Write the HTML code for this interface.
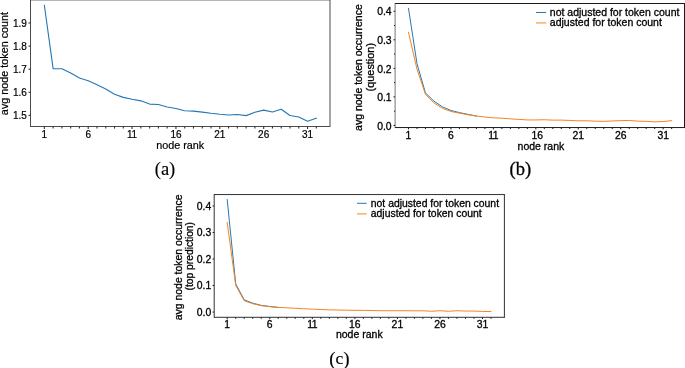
<!DOCTYPE html>
<html><head><meta charset="utf-8"><title>figure</title>
<style>
html,body{margin:0;padding:0;background:#fff;}
svg{display:block}
text.s{font-family:"Liberation Sans",sans-serif;}
text.r{font-family:"Liberation Serif",serif;}
</style></head><body>
<svg width="685" height="368" viewBox="0 0 685 368">
<rect width="685" height="368" fill="#fff"/>
<polyline points="44.35,5.31 53.12,68.60 61.90,68.69 70.67,72.97 79.44,78.09 88.22,80.75 96.99,84.68 105.76,89.07 114.53,94.24 123.31,97.38 132.08,99.23 140.85,100.85 149.63,104.08 158.40,104.54 167.17,107.01 175.94,108.47 184.72,110.78 193.49,111.13 202.26,112.17 211.04,113.32 219.81,114.25 228.58,114.94 237.36,114.48 246.13,115.63 254.90,112.17 263.68,110.09 272.45,111.94 281.22,109.21 289.99,115.56 298.77,117.02 307.54,121.29 316.31,118.17" fill="none" stroke="#2577b3" stroke-width="1.1" stroke-linejoin="round" stroke-linecap="square"/>
<line x1="30.50" y1="-0.60" x2="30.50" y2="127.00" stroke="#4a4a4a" stroke-width="1.0"/>
<line x1="330.00" y1="-0.60" x2="330.00" y2="127.00" stroke="#4a4a4a" stroke-width="1.0"/>
<line x1="30.50" y1="-0.10" x2="330.00" y2="-0.10" stroke="#4a4a4a" stroke-width="1.0"/>
<line x1="30.50" y1="126.50" x2="330.00" y2="126.50" stroke="#4a4a4a" stroke-width="1.0"/>
<line x1="44.35" y1="126.50" x2="44.35" y2="129.10" stroke="#333" stroke-width="1.1"/>
<text class="s" x="44.35" y="138.10" font-size="10.0" text-anchor="middle" fill="#000" stroke="#000" stroke-width="0.2">1</text>
<line x1="53.12" y1="126.50" x2="53.12" y2="128.60" stroke="#333" stroke-width="1.1"/>
<line x1="61.90" y1="126.50" x2="61.90" y2="128.60" stroke="#333" stroke-width="1.1"/>
<line x1="70.67" y1="126.50" x2="70.67" y2="128.60" stroke="#333" stroke-width="1.1"/>
<line x1="79.44" y1="126.50" x2="79.44" y2="128.60" stroke="#333" stroke-width="1.1"/>
<line x1="88.22" y1="126.50" x2="88.22" y2="129.10" stroke="#333" stroke-width="1.1"/>
<text class="s" x="88.22" y="138.10" font-size="10.0" text-anchor="middle" fill="#000" stroke="#000" stroke-width="0.2">6</text>
<line x1="96.99" y1="126.50" x2="96.99" y2="128.60" stroke="#333" stroke-width="1.1"/>
<line x1="105.76" y1="126.50" x2="105.76" y2="128.60" stroke="#333" stroke-width="1.1"/>
<line x1="114.53" y1="126.50" x2="114.53" y2="128.60" stroke="#333" stroke-width="1.1"/>
<line x1="123.31" y1="126.50" x2="123.31" y2="128.60" stroke="#333" stroke-width="1.1"/>
<line x1="132.08" y1="126.50" x2="132.08" y2="129.10" stroke="#333" stroke-width="1.1"/>
<text class="s" x="132.08" y="138.10" font-size="10.0" text-anchor="middle" fill="#000" stroke="#000" stroke-width="0.2">1<tspan dx="-0.45">1</tspan></text>
<line x1="140.85" y1="126.50" x2="140.85" y2="128.60" stroke="#333" stroke-width="1.1"/>
<line x1="149.63" y1="126.50" x2="149.63" y2="128.60" stroke="#333" stroke-width="1.1"/>
<line x1="158.40" y1="126.50" x2="158.40" y2="128.60" stroke="#333" stroke-width="1.1"/>
<line x1="167.17" y1="126.50" x2="167.17" y2="128.60" stroke="#333" stroke-width="1.1"/>
<line x1="175.94" y1="126.50" x2="175.94" y2="129.10" stroke="#333" stroke-width="1.1"/>
<text class="s" x="175.94" y="138.10" font-size="10.0" text-anchor="middle" fill="#000" stroke="#000" stroke-width="0.2">16</text>
<line x1="184.72" y1="126.50" x2="184.72" y2="128.60" stroke="#333" stroke-width="1.1"/>
<line x1="193.49" y1="126.50" x2="193.49" y2="128.60" stroke="#333" stroke-width="1.1"/>
<line x1="202.26" y1="126.50" x2="202.26" y2="128.60" stroke="#333" stroke-width="1.1"/>
<line x1="211.04" y1="126.50" x2="211.04" y2="128.60" stroke="#333" stroke-width="1.1"/>
<line x1="219.81" y1="126.50" x2="219.81" y2="129.10" stroke="#333" stroke-width="1.1"/>
<text class="s" x="219.81" y="138.10" font-size="10.0" text-anchor="middle" fill="#000" stroke="#000" stroke-width="0.2">21</text>
<line x1="228.58" y1="126.50" x2="228.58" y2="128.60" stroke="#333" stroke-width="1.1"/>
<line x1="237.36" y1="126.50" x2="237.36" y2="128.60" stroke="#333" stroke-width="1.1"/>
<line x1="246.13" y1="126.50" x2="246.13" y2="128.60" stroke="#333" stroke-width="1.1"/>
<line x1="254.90" y1="126.50" x2="254.90" y2="128.60" stroke="#333" stroke-width="1.1"/>
<line x1="263.68" y1="126.50" x2="263.68" y2="129.10" stroke="#333" stroke-width="1.1"/>
<text class="s" x="263.68" y="138.10" font-size="10.0" text-anchor="middle" fill="#000" stroke="#000" stroke-width="0.2">26</text>
<line x1="272.45" y1="126.50" x2="272.45" y2="128.60" stroke="#333" stroke-width="1.1"/>
<line x1="281.22" y1="126.50" x2="281.22" y2="128.60" stroke="#333" stroke-width="1.1"/>
<line x1="289.99" y1="126.50" x2="289.99" y2="128.60" stroke="#333" stroke-width="1.1"/>
<line x1="298.77" y1="126.50" x2="298.77" y2="128.60" stroke="#333" stroke-width="1.1"/>
<line x1="307.54" y1="126.50" x2="307.54" y2="129.10" stroke="#333" stroke-width="1.1"/>
<text class="s" x="307.54" y="138.10" font-size="10.0" text-anchor="middle" fill="#000" stroke="#000" stroke-width="0.2">31</text>
<line x1="316.31" y1="126.50" x2="316.31" y2="128.60" stroke="#333" stroke-width="1.1"/>
<line x1="28.50" y1="115.40" x2="30.50" y2="115.40" stroke="#333" stroke-width="1.1"/>
<text class="s" x="26.90" y="119.00" font-size="10.0" text-anchor="end" fill="#000" stroke="#000" stroke-width="0.2">1.5</text>
<line x1="28.50" y1="92.30" x2="30.50" y2="92.30" stroke="#333" stroke-width="1.1"/>
<text class="s" x="26.90" y="95.90" font-size="10.0" text-anchor="end" fill="#000" stroke="#000" stroke-width="0.2">1.6</text>
<line x1="28.50" y1="69.20" x2="30.50" y2="69.20" stroke="#333" stroke-width="1.1"/>
<text class="s" x="26.90" y="72.80" font-size="10.0" text-anchor="end" fill="#000" stroke="#000" stroke-width="0.2">1.7</text>
<line x1="28.50" y1="46.10" x2="30.50" y2="46.10" stroke="#333" stroke-width="1.1"/>
<text class="s" x="26.90" y="49.70" font-size="10.0" text-anchor="end" fill="#000" stroke="#000" stroke-width="0.2">1.8</text>
<line x1="28.50" y1="23.00" x2="30.50" y2="23.00" stroke="#333" stroke-width="1.1"/>
<text class="s" x="26.90" y="26.60" font-size="10.0" text-anchor="end" fill="#000" stroke="#000" stroke-width="0.2">1.9</text>
<text class="s" x="180.25" y="149.10" font-size="10.8" text-anchor="middle" fill="#000" stroke="#000" stroke-width="0.2">node rank</text>
<text class="s" x="8.30" y="63.50" font-size="10.8" text-anchor="middle" fill="#000" stroke="#000" stroke-width="0.2" transform="rotate(-90 8.30 63.50)">avg node token count</text>
<text class="r" x="165.00" y="175.30" font-size="18.5" text-anchor="middle" fill="#000" stroke="#000" stroke-width="0.15"><tspan font-size="18.5" dy="0">(</tspan><tspan dy="0">a</tspan><tspan font-size="18.5" dy="0">)</tspan></text>
<polyline points="408.50,8.40 416.99,63.78 425.48,92.99 433.97,101.18 442.46,106.89 450.94,110.52 459.43,112.60 467.92,114.37 476.41,116.03" fill="none" stroke="#2577b3" stroke-width="1.0" stroke-linejoin="round" stroke-linecap="square"/>
<polyline points="408.50,32.26 416.99,69.21 425.48,94.33 433.97,102.90 442.46,108.32 450.94,111.46 459.43,113.17 467.92,114.74 476.41,116.03 484.90,117.03 493.39,117.83 501.88,118.17 510.37,118.88 518.86,119.40 527.35,119.94 535.84,119.94 544.32,119.74 552.81,120.11 561.30,120.11 569.79,120.45 578.28,120.80 586.77,120.80 595.26,121.17 603.75,121.34 612.24,120.97 620.73,120.63 629.21,120.45 637.70,121.17 646.19,121.34 654.68,121.85 663.17,121.51 671.66,120.63" fill="none" stroke="#f5841f" stroke-width="1.0" stroke-linejoin="round" stroke-linecap="square"/>
<line x1="395.10" y1="3.00" x2="395.10" y2="128.05" stroke="#1a1a1a" stroke-width="0.6"/>
<line x1="684.50" y1="3.00" x2="684.50" y2="128.05" stroke="#1a1a1a" stroke-width="1.0"/>
<line x1="395.10" y1="3.50" x2="684.50" y2="3.50" stroke="#1a1a1a" stroke-width="1.0"/>
<line x1="395.10" y1="127.55" x2="684.50" y2="127.55" stroke="#1a1a1a" stroke-width="1.0"/>
<line x1="408.50" y1="127.55" x2="408.50" y2="129.35" stroke="#1a1a1a" stroke-width="1.0"/>
<text class="s" x="408.50" y="138.65" font-size="10.4" text-anchor="middle" fill="#000" stroke="#000" stroke-width="0.3">1</text>
<line x1="416.99" y1="127.55" x2="416.99" y2="129.05" stroke="#1a1a1a" stroke-width="1.0"/>
<line x1="425.48" y1="127.55" x2="425.48" y2="129.05" stroke="#1a1a1a" stroke-width="1.0"/>
<line x1="433.97" y1="127.55" x2="433.97" y2="129.05" stroke="#1a1a1a" stroke-width="1.0"/>
<line x1="442.46" y1="127.55" x2="442.46" y2="129.05" stroke="#1a1a1a" stroke-width="1.0"/>
<line x1="450.94" y1="127.55" x2="450.94" y2="129.35" stroke="#1a1a1a" stroke-width="1.0"/>
<text class="s" x="450.94" y="138.65" font-size="10.4" text-anchor="middle" fill="#000" stroke="#000" stroke-width="0.3">6</text>
<line x1="459.43" y1="127.55" x2="459.43" y2="129.05" stroke="#1a1a1a" stroke-width="1.0"/>
<line x1="467.92" y1="127.55" x2="467.92" y2="129.05" stroke="#1a1a1a" stroke-width="1.0"/>
<line x1="476.41" y1="127.55" x2="476.41" y2="129.05" stroke="#1a1a1a" stroke-width="1.0"/>
<line x1="484.90" y1="127.55" x2="484.90" y2="129.05" stroke="#1a1a1a" stroke-width="1.0"/>
<line x1="493.39" y1="127.55" x2="493.39" y2="129.35" stroke="#1a1a1a" stroke-width="1.0"/>
<text class="s" x="493.39" y="138.65" font-size="10.4" text-anchor="middle" fill="#000" stroke="#000" stroke-width="0.3">1<tspan dx="-0.45">1</tspan></text>
<line x1="501.88" y1="127.55" x2="501.88" y2="129.05" stroke="#1a1a1a" stroke-width="1.0"/>
<line x1="510.37" y1="127.55" x2="510.37" y2="129.05" stroke="#1a1a1a" stroke-width="1.0"/>
<line x1="518.86" y1="127.55" x2="518.86" y2="129.05" stroke="#1a1a1a" stroke-width="1.0"/>
<line x1="527.35" y1="127.55" x2="527.35" y2="129.05" stroke="#1a1a1a" stroke-width="1.0"/>
<line x1="535.84" y1="127.55" x2="535.84" y2="129.35" stroke="#1a1a1a" stroke-width="1.0"/>
<text class="s" x="537.34" y="138.65" font-size="10.4" text-anchor="middle" fill="#000" stroke="#000" stroke-width="0.3">16</text>
<line x1="544.32" y1="127.55" x2="544.32" y2="129.05" stroke="#1a1a1a" stroke-width="1.0"/>
<line x1="552.81" y1="127.55" x2="552.81" y2="129.05" stroke="#1a1a1a" stroke-width="1.0"/>
<line x1="561.30" y1="127.55" x2="561.30" y2="129.05" stroke="#1a1a1a" stroke-width="1.0"/>
<line x1="569.79" y1="127.55" x2="569.79" y2="129.05" stroke="#1a1a1a" stroke-width="1.0"/>
<line x1="578.28" y1="127.55" x2="578.28" y2="129.35" stroke="#1a1a1a" stroke-width="1.0"/>
<text class="s" x="578.28" y="138.65" font-size="10.4" text-anchor="middle" fill="#000" stroke="#000" stroke-width="0.3">21</text>
<line x1="586.77" y1="127.55" x2="586.77" y2="129.05" stroke="#1a1a1a" stroke-width="1.0"/>
<line x1="595.26" y1="127.55" x2="595.26" y2="129.05" stroke="#1a1a1a" stroke-width="1.0"/>
<line x1="603.75" y1="127.55" x2="603.75" y2="129.05" stroke="#1a1a1a" stroke-width="1.0"/>
<line x1="612.24" y1="127.55" x2="612.24" y2="129.05" stroke="#1a1a1a" stroke-width="1.0"/>
<line x1="620.73" y1="127.55" x2="620.73" y2="129.35" stroke="#1a1a1a" stroke-width="1.0"/>
<text class="s" x="620.73" y="138.65" font-size="10.4" text-anchor="middle" fill="#000" stroke="#000" stroke-width="0.3">26</text>
<line x1="629.21" y1="127.55" x2="629.21" y2="129.05" stroke="#1a1a1a" stroke-width="1.0"/>
<line x1="637.70" y1="127.55" x2="637.70" y2="129.05" stroke="#1a1a1a" stroke-width="1.0"/>
<line x1="646.19" y1="127.55" x2="646.19" y2="129.05" stroke="#1a1a1a" stroke-width="1.0"/>
<line x1="654.68" y1="127.55" x2="654.68" y2="129.05" stroke="#1a1a1a" stroke-width="1.0"/>
<line x1="663.17" y1="127.55" x2="663.17" y2="129.35" stroke="#1a1a1a" stroke-width="1.0"/>
<text class="s" x="663.17" y="138.65" font-size="10.4" text-anchor="middle" fill="#000" stroke="#000" stroke-width="0.3">31</text>
<line x1="671.66" y1="127.55" x2="671.66" y2="129.05" stroke="#1a1a1a" stroke-width="1.0"/>
<line x1="393.50" y1="125.45" x2="395.10" y2="125.45" stroke="#1a1a1a" stroke-width="1.0"/>
<text class="s" x="391.60" y="129.61" font-size="10.4" text-anchor="end" fill="#000" stroke="#000" stroke-width="0.3">0.0</text>
<line x1="393.50" y1="96.90" x2="395.10" y2="96.90" stroke="#1a1a1a" stroke-width="1.0"/>
<text class="s" x="391.60" y="101.06" font-size="10.4" text-anchor="end" fill="#000" stroke="#000" stroke-width="0.3">0.1</text>
<line x1="393.50" y1="68.35" x2="395.10" y2="68.35" stroke="#1a1a1a" stroke-width="1.0"/>
<text class="s" x="391.60" y="72.51" font-size="10.4" text-anchor="end" fill="#000" stroke="#000" stroke-width="0.3">0.2</text>
<line x1="393.50" y1="39.80" x2="395.10" y2="39.80" stroke="#1a1a1a" stroke-width="1.0"/>
<text class="s" x="391.60" y="43.96" font-size="10.4" text-anchor="end" fill="#000" stroke="#000" stroke-width="0.3">0.3</text>
<line x1="393.50" y1="11.25" x2="395.10" y2="11.25" stroke="#1a1a1a" stroke-width="1.0"/>
<text class="s" x="391.60" y="15.41" font-size="10.4" text-anchor="end" fill="#000" stroke="#000" stroke-width="0.3">0.4</text>
<line x1="394.00" y1="111.17" x2="395.10" y2="111.17" stroke="#1a1a1a" stroke-width="1.0"/>
<line x1="394.00" y1="82.62" x2="395.10" y2="82.62" stroke="#1a1a1a" stroke-width="1.0"/>
<line x1="394.00" y1="54.08" x2="395.10" y2="54.08" stroke="#1a1a1a" stroke-width="1.0"/>
<line x1="394.00" y1="25.53" x2="395.10" y2="25.53" stroke="#1a1a1a" stroke-width="1.0"/>
<text class="s" x="540.90" y="149.50" font-size="10.5" text-anchor="middle" fill="#000" stroke="#000" stroke-width="0.3">node rank</text>
<text class="s" x="362.50" y="67.60" font-size="10.5" text-anchor="middle" fill="#000" stroke="#000" stroke-width="0.3" transform="rotate(-90 362.50 67.60)">avg node token occurrence</text>
<text class="s" x="373.80" y="67.20" font-size="10.9" text-anchor="middle" fill="#000" stroke="#000" stroke-width="0.3" transform="rotate(-90 373.80 67.20)">(question)</text>
<line x1="536.00" y1="12.48" x2="546.20" y2="12.48" stroke="#2577b3" stroke-width="1.0"/>
<text class="s" x="549.80" y="15.73" font-size="10.5" text-anchor="start" fill="#000" stroke="#000" stroke-width="0.3">not adjusted for token count</text>
<line x1="536.00" y1="22.94" x2="546.20" y2="22.94" stroke="#f5841f" stroke-width="1.0"/>
<text class="s" x="549.80" y="26.19" font-size="10.5" text-anchor="start" fill="#000" stroke="#000" stroke-width="0.3">adjusted for token count</text>
<text class="r" x="520.30" y="174.60" font-size="18.5" text-anchor="middle" fill="#000" stroke="#000" stroke-width="0.3"><tspan font-size="18.5" dy="0">(</tspan><tspan dy="0">b</tspan><tspan font-size="18.5" dy="0">)</tspan></text>
<polyline points="227.20,199.61 235.71,283.94 244.22,299.85 252.73,303.17 261.24,305.37 269.75,306.48 278.26,307.44" fill="none" stroke="#2577b3" stroke-width="1.0" stroke-linejoin="round" stroke-linecap="square"/>
<polyline points="227.20,222.41 235.71,285.34 244.22,300.78 252.73,303.70 261.24,305.69 269.75,306.61 278.26,307.44 286.77,307.81 295.28,308.26 303.79,308.79 312.30,309.13 320.81,309.48 329.32,309.85 337.83,310.01 346.34,310.19 354.85,310.35 363.36,310.35 371.87,310.54 380.38,310.72 388.89,310.72 397.40,310.72 405.91,310.72 414.42,310.80 422.93,310.80 431.44,311.25 439.95,310.72 448.46,311.25 456.97,310.72 465.48,311.07 473.99,311.07 482.50,311.41 491.01,311.57" fill="none" stroke="#f5841f" stroke-width="1.0" stroke-linejoin="round" stroke-linecap="square"/>
<line x1="214.20" y1="194.10" x2="214.20" y2="317.75" stroke="#1a1a1a" stroke-width="0.9"/>
<line x1="504.40" y1="194.10" x2="504.40" y2="317.75" stroke="#1a1a1a" stroke-width="0.9"/>
<line x1="214.20" y1="194.55" x2="504.40" y2="194.55" stroke="#1a1a1a" stroke-width="0.9"/>
<line x1="214.20" y1="317.30" x2="504.40" y2="317.30" stroke="#1a1a1a" stroke-width="0.9"/>
<line x1="227.20" y1="317.30" x2="227.20" y2="319.10" stroke="#1a1a1a" stroke-width="1.0"/>
<text class="s" x="227.20" y="327.70" font-size="10.4" text-anchor="middle" fill="#000" stroke="#000" stroke-width="0.3">1</text>
<line x1="235.71" y1="317.30" x2="235.71" y2="318.80" stroke="#1a1a1a" stroke-width="1.0"/>
<line x1="244.22" y1="317.30" x2="244.22" y2="318.80" stroke="#1a1a1a" stroke-width="1.0"/>
<line x1="252.73" y1="317.30" x2="252.73" y2="318.80" stroke="#1a1a1a" stroke-width="1.0"/>
<line x1="261.24" y1="317.30" x2="261.24" y2="318.80" stroke="#1a1a1a" stroke-width="1.0"/>
<line x1="269.75" y1="317.30" x2="269.75" y2="319.10" stroke="#1a1a1a" stroke-width="1.0"/>
<text class="s" x="269.75" y="327.70" font-size="10.4" text-anchor="middle" fill="#000" stroke="#000" stroke-width="0.3">6</text>
<line x1="278.26" y1="317.30" x2="278.26" y2="318.80" stroke="#1a1a1a" stroke-width="1.0"/>
<line x1="286.77" y1="317.30" x2="286.77" y2="318.80" stroke="#1a1a1a" stroke-width="1.0"/>
<line x1="295.28" y1="317.30" x2="295.28" y2="318.80" stroke="#1a1a1a" stroke-width="1.0"/>
<line x1="303.79" y1="317.30" x2="303.79" y2="318.80" stroke="#1a1a1a" stroke-width="1.0"/>
<line x1="312.30" y1="317.30" x2="312.30" y2="319.10" stroke="#1a1a1a" stroke-width="1.0"/>
<text class="s" x="312.30" y="327.70" font-size="10.4" text-anchor="middle" fill="#000" stroke="#000" stroke-width="0.3">1<tspan dx="-0.45">1</tspan></text>
<line x1="320.81" y1="317.30" x2="320.81" y2="318.80" stroke="#1a1a1a" stroke-width="1.0"/>
<line x1="329.32" y1="317.30" x2="329.32" y2="318.80" stroke="#1a1a1a" stroke-width="1.0"/>
<line x1="337.83" y1="317.30" x2="337.83" y2="318.80" stroke="#1a1a1a" stroke-width="1.0"/>
<line x1="346.34" y1="317.30" x2="346.34" y2="318.80" stroke="#1a1a1a" stroke-width="1.0"/>
<line x1="354.85" y1="317.30" x2="354.85" y2="319.10" stroke="#1a1a1a" stroke-width="1.0"/>
<text class="s" x="354.85" y="327.70" font-size="10.4" text-anchor="middle" fill="#000" stroke="#000" stroke-width="0.3">16</text>
<line x1="363.36" y1="317.30" x2="363.36" y2="318.80" stroke="#1a1a1a" stroke-width="1.0"/>
<line x1="371.87" y1="317.30" x2="371.87" y2="318.80" stroke="#1a1a1a" stroke-width="1.0"/>
<line x1="380.38" y1="317.30" x2="380.38" y2="318.80" stroke="#1a1a1a" stroke-width="1.0"/>
<line x1="388.89" y1="317.30" x2="388.89" y2="318.80" stroke="#1a1a1a" stroke-width="1.0"/>
<line x1="397.40" y1="317.30" x2="397.40" y2="319.10" stroke="#1a1a1a" stroke-width="1.0"/>
<text class="s" x="397.40" y="327.70" font-size="10.4" text-anchor="middle" fill="#000" stroke="#000" stroke-width="0.3">21</text>
<line x1="405.91" y1="317.30" x2="405.91" y2="318.80" stroke="#1a1a1a" stroke-width="1.0"/>
<line x1="414.42" y1="317.30" x2="414.42" y2="318.80" stroke="#1a1a1a" stroke-width="1.0"/>
<line x1="422.93" y1="317.30" x2="422.93" y2="318.80" stroke="#1a1a1a" stroke-width="1.0"/>
<line x1="431.44" y1="317.30" x2="431.44" y2="318.80" stroke="#1a1a1a" stroke-width="1.0"/>
<line x1="439.95" y1="317.30" x2="439.95" y2="319.10" stroke="#1a1a1a" stroke-width="1.0"/>
<text class="s" x="439.95" y="327.70" font-size="10.4" text-anchor="middle" fill="#000" stroke="#000" stroke-width="0.3">26</text>
<line x1="448.46" y1="317.30" x2="448.46" y2="318.80" stroke="#1a1a1a" stroke-width="1.0"/>
<line x1="456.97" y1="317.30" x2="456.97" y2="318.80" stroke="#1a1a1a" stroke-width="1.0"/>
<line x1="465.48" y1="317.30" x2="465.48" y2="318.80" stroke="#1a1a1a" stroke-width="1.0"/>
<line x1="473.99" y1="317.30" x2="473.99" y2="318.80" stroke="#1a1a1a" stroke-width="1.0"/>
<line x1="482.50" y1="317.30" x2="482.50" y2="319.10" stroke="#1a1a1a" stroke-width="1.0"/>
<text class="s" x="482.50" y="327.70" font-size="10.4" text-anchor="middle" fill="#000" stroke="#000" stroke-width="0.3">31</text>
<line x1="491.01" y1="317.30" x2="491.01" y2="318.80" stroke="#1a1a1a" stroke-width="1.0"/>
<line x1="212.60" y1="312.05" x2="214.20" y2="312.05" stroke="#1a1a1a" stroke-width="1.0"/>
<text class="s" x="211.20" y="315.79" font-size="10.4" text-anchor="end" fill="#000" stroke="#000" stroke-width="0.3">0.0</text>
<line x1="212.60" y1="285.53" x2="214.20" y2="285.53" stroke="#1a1a1a" stroke-width="1.0"/>
<text class="s" x="211.20" y="289.27" font-size="10.4" text-anchor="end" fill="#000" stroke="#000" stroke-width="0.3">0.1</text>
<line x1="212.60" y1="259.01" x2="214.20" y2="259.01" stroke="#1a1a1a" stroke-width="1.0"/>
<text class="s" x="211.20" y="262.75" font-size="10.4" text-anchor="end" fill="#000" stroke="#000" stroke-width="0.3">0.2</text>
<line x1="212.60" y1="232.49" x2="214.20" y2="232.49" stroke="#1a1a1a" stroke-width="1.0"/>
<text class="s" x="211.20" y="236.23" font-size="10.4" text-anchor="end" fill="#000" stroke="#000" stroke-width="0.3">0.3</text>
<line x1="212.60" y1="205.97" x2="214.20" y2="205.97" stroke="#1a1a1a" stroke-width="1.0"/>
<text class="s" x="211.20" y="209.71" font-size="10.4" text-anchor="end" fill="#000" stroke="#000" stroke-width="0.3">0.4</text>
<text class="s" x="359.30" y="338.30" font-size="10.5" text-anchor="middle" fill="#000" stroke="#000" stroke-width="0.3">node rank</text>
<text class="s" x="181.70" y="257.30" font-size="10.45" text-anchor="middle" fill="#000" stroke="#000" stroke-width="0.3" transform="rotate(-90 181.70 257.30)">avg node token occurrence</text>
<text class="s" x="192.90" y="256.20" font-size="10.25" text-anchor="middle" fill="#000" stroke="#000" stroke-width="0.3" transform="rotate(-90 192.90 256.20)">(top prediction)</text>
<line x1="357.00" y1="203.30" x2="366.70" y2="203.30" stroke="#2577b3" stroke-width="1.0"/>
<text class="s" x="370.80" y="206.55" font-size="10.4" text-anchor="start" fill="#000" stroke="#000" stroke-width="0.3">not adjusted for token count</text>
<line x1="357.00" y1="213.90" x2="366.70" y2="213.90" stroke="#f5841f" stroke-width="1.0"/>
<text class="s" x="370.80" y="217.15" font-size="10.4" text-anchor="start" fill="#000" stroke="#000" stroke-width="0.3">adjusted for token count</text>
<text class="r" x="339.40" y="363.90" font-size="17.5" text-anchor="middle" fill="#000" stroke="#000" stroke-width="0.15"><tspan font-size="19" dy="0.9">(</tspan><tspan dy="-0.9">c</tspan><tspan font-size="19" dy="0.9">)</tspan></text>
</svg>
</body></html>
